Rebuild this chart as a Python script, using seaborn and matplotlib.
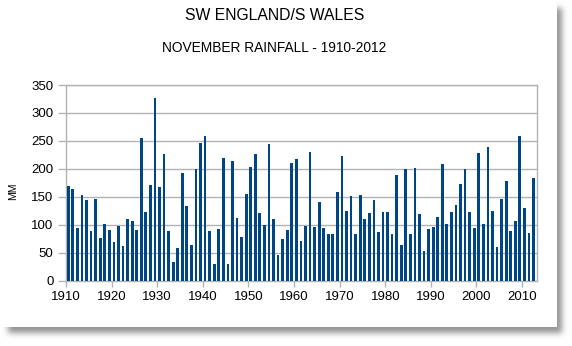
import numpy as np
import pandas as pd
import matplotlib
matplotlib.use("Agg")
import matplotlib.pyplot as plt
import seaborn as sns

# ---- data ----
years = list(range(1910, 2013))
rainfall = [169, 164, 95, 154, 144, 89, 146, 76, 102, 91,
            70, 98, 62, 110, 107, 91, 255, 122, 171, 327,
            167, 226, 89, 33, 58, 193, 133, 64, 199, 246,
            259, 88, 30, 92, 220, 29, 214, 112, 79, 155,
            203, 227, 121, 100, 245, 111, 46, 75, 90, 210,
            217, 71, 97, 231, 96, 141, 95, 83, 83, 158,
            223, 125, 151, 84, 153, 111, 121, 145, 87, 123,
            122, 83, 189, 64, 200, 84, 201, 119, 54, 93,
            96, 114, 208, 102, 123, 136, 173, 200, 123, 95,
            229, 101, 239, 124, 61, 146, 178, 89, 107, 259,
            130, 86, 183]
xtick_years = list(range(1910, 2011, 10))
ytick_vals = list(range(0, 351, 50))
title = "SW ENGLAND/S WALES"
subtitle = "NOVEMBER RAINFALL - 1910-2012"
ylabel = "MM"

assert len(years) == len(rainfall)

sns.set_theme(style="white")
plt.rcParams["font.family"] = ["Liberation Sans", "DejaVu Sans"]

W, H = 572, 346
fig = plt.figure(figsize=(W / 100, H / 100), dpi=100)
fig.patch.set_facecolor("white")

# card with drop shadow
mask = np.zeros((H, W))
mask[8:333, 8:562] = 1.0
def blur(a, sigma):
    r = int(3 * sigma)
    k = np.exp(-0.5 * (np.arange(-r, r + 1) / sigma) ** 2)
    k /= k.sum()
    a = np.apply_along_axis(lambda m: np.convolve(m, k, mode="same"), 0, a)
    a = np.apply_along_axis(lambda m: np.convolve(m, k, mode="same"), 1, a)
    return a
sh = blur(mask, 3.0) * 0.42
img = np.ones((H, W, 3)) * (1 - sh)[..., None]
img[0:327, 0:557, :] = 1.0
fig.figimage(img, xo=0, yo=0, origin="upper", zorder=-10)

left, right = 66 / W, 536.7 / W
bottom, top = (H - 280.7) / H, (H - 85) / H
ax = fig.add_axes([left, bottom, right - left, top - bottom])
ax.set_facecolor("white")

df = pd.DataFrame({"pos": np.array(years) + 0.5, "mm": rainfall})
sns.barplot(data=df, x="pos", y="mm", native_scale=True, color="#004586",
            saturation=1, width=0.6, edgecolor="none", ax=ax, zorder=3)

ax.set_xlim(1910, 2013.2)
ax.set_ylim(0, 350)
ax.set_xticks(xtick_years)
ax.set_xticklabels([str(y) for y in xtick_years])
ax.set_yticks(ytick_vals)
ax.set_yticklabels([str(v) for v in ytick_vals])
ax.set_xlabel("")
ax.set_ylabel("")

grid_c = "#b3b3b3"
ax.yaxis.grid(True, color=grid_c, linewidth=1.0, zorder=0)
ax.xaxis.grid(False)
ax.set_axisbelow(True)
for s in ax.spines.values():
    s.set_color(grid_c)
    s.set_linewidth(1.0)
ax.tick_params(axis="y", direction="out", length=5.5, width=1.0, color=grid_c,
               labelsize=9.5, labelcolor="black", pad=3.5, left=True)
ax.tick_params(axis="x", direction="out", length=4, width=1.0, color=grid_c,
               labelsize=9.5, labelcolor="black", pad=3.5, bottom=True)

fig.text(275 / W, 1 - 15.7 / H, title, ha="center", va="center", fontsize=11.3, color="black")
fig.text(274 / W, 1 - 48.3 / H, subtitle, ha="center", va="center", fontsize=9.9, color="black")
fig.text(13.5 / W, 1 - 191 / H, ylabel, ha="center", va="center", rotation=90,
         fontsize=7.5, color="black")

fig.savefig("out.png", dpi=100, facecolor="white")
